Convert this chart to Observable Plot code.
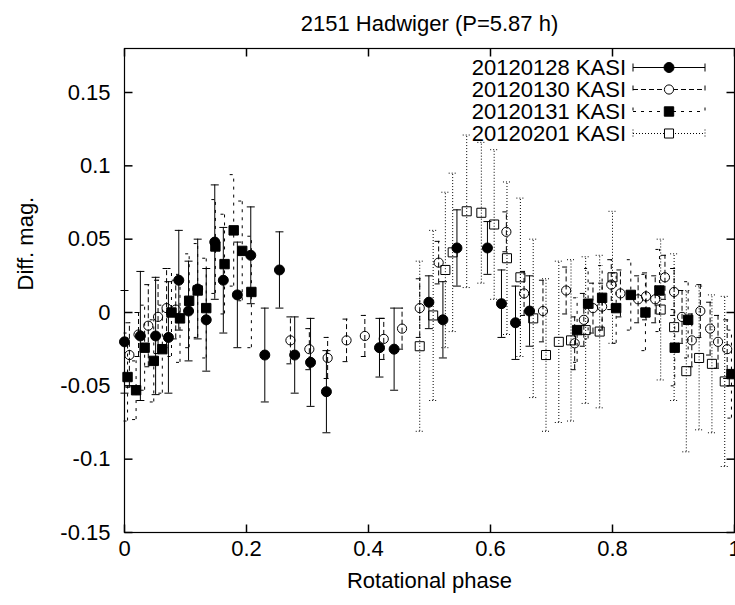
<!DOCTYPE html>
<html><head><meta charset="utf-8">
<script src="https://cdn.jsdelivr.net/npm/d3@7"></script>
<script src="https://cdn.jsdelivr.net/npm/@observablehq/plot@0.6"></script>
<style>body{margin:0;background:#fff} svg{display:block}</style>
</head><body><div id="chart"></div>
<script>
const title = "2151 Hadwiger (P=5.87 h)";
const xLabel = "Rotational phase";
const yLabel = "Diff. mag.";
const xTicks = [0, 0.2, 0.4, 0.6, 0.8, 1];
const xTickLabels = ["0", "0.2", "0.4", "0.6", "0.8", "1"];
const yTicks = [-0.15, -0.1, -0.05, 0, 0.05, 0.1, 0.15];
const yTickLabels = ["-0.15", "-0.1", "-0.05", "0", "0.05", "0.1", "0.15"];
const seriesNames = ["20120128 KASI", "20120130 KASI", "20120131 KASI", "20120201 KASI"];

// [phase, diff mag, error]
const s20120128 = [
  [0.000,-0.020,0.035],[0.026,-0.016,0.044],[0.051,-0.016,0.040],[0.072,-0.017,0.038],
  [0.089,0.022,0.034],[0.105,0.001,0.034],[0.120,0.016,0.034],[0.134,-0.005,0.035],
  [0.148,0.048,0.039],[0.162,0.022,0.036],[0.185,0.012,0.036],[0.207,0.039,0.033],
  [0.230,-0.029,0.032],[0.254,0.029,0.026],[0.279,-0.029,0.026],[0.305,-0.034,0.030],
  [0.331,-0.054,0.028],[0.418,-0.024,0.020],[0.442,-0.025,0.028],[0.499,0.007,0.018],
  [0.522,-0.005,0.026],[0.545,0.044,0.026],[0.595,0.044,0.018],[0.618,0.006,0.023],
  [0.641,-0.007,0.025],[0.664,0.001,0.024]
];
const s20120130 = [
  [0.008,-0.029,0.022],[0.023,-0.015,0.015],[0.039,-0.009,0.028],[0.055,-0.003,0.025],
  [0.069,0.003,0.027],[0.084,0.002,0.020],[0.272,-0.019,0.016],[0.303,-0.025,0.014],
  [0.333,-0.031,0.014],[0.364,-0.019,0.0145],[0.394,-0.016,0.014],[0.425,-0.018,0.014],
  [0.455,-0.011,0.014],[0.484,0.003,0.020],[0.515,0.034,0.0145],[0.626,0.055,0.0136],
  [0.655,0.013,0.015],[0.686,0.001,0.021],[0.724,0.015,0.016],[0.738,-0.021,0.018],
  [0.753,-0.005,0.018],[0.768,0.003,0.017],[0.783,0.004,0.016],[0.798,0.019,0.017],
  [0.813,0.013,0.016],[0.842,0.009,0.016],[0.855,0.011,0.016],[0.870,0.009,0.016],
  [0.886,0.024,0.015],[0.901,0.014,0.016],[0.914,-0.003,0.018],[0.930,-0.019,0.018],
  [0.944,0.001,0.018],[0.960,-0.011,0.018],[0.973,-0.020,0.018],[0.988,-0.025,0.020]
];
const s20120131 = [
  [0.005,-0.044,0.030],[0.019,-0.053,0.020],[0.033,-0.024,0.029],[0.048,-0.033,0.028],
  [0.062,-0.025,0.030],[0.077,0.000,0.030],[0.091,-0.004,0.030],[0.106,0.008,0.032],
  [0.120,0.015,0.032],[0.134,0.003,0.034],[0.149,0.045,0.032],[0.164,0.033,0.034],
  [0.179,0.056,0.038],[0.193,0.042,0.034],[0.208,0.014,0.038],[0.742,-0.012,0.022],
  [0.760,0.006,0.024],[0.783,0.010,0.022],[0.806,0.003,0.024],[0.830,0.012,0.024],
  [0.854,0.000,0.026],[0.877,0.015,0.028],[0.902,-0.024,0.026],[0.924,-0.005,0.026],
  [0.995,-0.042,0.030]
];
const s20120201 = [
  [0.484,-0.023,0.058],[0.506,-0.002,0.058],[0.526,0.029,0.053],[0.538,0.041,0.054],
  [0.561,0.069,0.052],[0.585,0.068,0.048],[0.606,0.060,0.051],[0.627,0.037,0.052],
  [0.649,0.024,0.054],[0.670,-0.004,0.054],[0.691,-0.029,0.052],[0.712,-0.020,0.055],
  [0.732,-0.019,0.055],[0.756,-0.012,0.050],[0.779,-0.013,0.052],[0.800,0.024,0.045],
  [0.879,0.002,0.048],[0.901,-0.010,0.050],[0.921,-0.040,0.055],[0.942,-0.031,0.049],
  [0.963,-0.035,0.047],[0.984,-0.047,0.058]
];

const seriesData = [s20120128, s20120130, s20120131, s20120201];
const seriesStyle = [
  {symbol: "circle", r: 5, fill: "black", dash: null},
  {symbol: "circle", r: 4.6, fill: "none", dash: "5,3"},
  {symbol: "square", r: 5.3, fill: "black", dash: "3,5"},
  {symbol: "square", r: 5.1, fill: "none", dash: "1,2"}
];

const capSym = {draw(c) { c.moveTo(-4, 0); c.lineTo(4, 0); }};
const tickUp = {draw(c) { c.moveTo(0, 0); c.lineTo(0, -8); }};
const tickDown = {draw(c) { c.moveTo(0, 0); c.lineTo(0, 8); }};
const tickRight = {draw(c) { c.moveTo(0, 0); c.lineTo(8, 0); }};
const tickLeft = {draw(c) { c.moveTo(0, 0); c.lineTo(-8, 0); }};

const FONT = "Liberation Sans, Arial, Helvetica, sans-serif";
const FS = 22;

const marks = [];
seriesData.forEach((data, i) => {
  const st = seriesStyle[i];
  const rows = data.map(([p, m, e]) => ({phase: p, mag: m, lo: m - e, hi: m + e}));
  marks.push(Plot.ruleX(rows, {x: "phase", y1: "lo", y2: "hi", stroke: "black", strokeWidth: 1, strokeDasharray: st.dash}));
  marks.push(Plot.dot(rows, {x: "phase", y: "lo", symbol: capSym, fill: "none", stroke: "black", strokeWidth: 1, strokeDasharray: st.dash}));
  marks.push(Plot.dot(rows, {x: "phase", y: "hi", symbol: capSym, fill: "none", stroke: "black", strokeWidth: 1, strokeDasharray: st.dash}));
  marks.push(Plot.dot(rows, {x: "phase", y: "mag", symbol: st.symbol, r: st.r, fill: st.fill, stroke: "black", strokeWidth: 1}));
});

marks.push(Plot.frame({stroke: "black", strokeWidth: 1.2}));
marks.push(Plot.dot(xTicks, {x: d => d, frameAnchor: "bottom", symbol: tickUp, stroke: "black", fill: "none"}));
marks.push(Plot.dot(xTicks, {x: d => d, frameAnchor: "top", symbol: tickDown, stroke: "black", fill: "none"}));
marks.push(Plot.dot(yTicks, {y: d => d, frameAnchor: "left", symbol: tickRight, stroke: "black", fill: "none"}));
marks.push(Plot.dot(yTicks, {y: d => d, frameAnchor: "right", symbol: tickLeft, stroke: "black", fill: "none"}));
marks.push(Plot.text(xTicks, {x: d => d, frameAnchor: "bottom", dy: 23, text: (d, i) => xTickLabels[i], fontSize: FS, fill: "black"}));
marks.push(Plot.text(yTicks, {y: d => d, frameAnchor: "left", dx: -14, textAnchor: "end", text: (d, i) => yTickLabels[i], fontSize: FS, fill: "black"}));
marks.push(Plot.text([xLabel], {frameAnchor: "bottom", dy: 55, text: d => d, fontSize: FS, fill: "black"}));
marks.push(Plot.text([yLabel], {frameAnchor: "left", dx: -99, rotate: -90, text: d => d, fontSize: FS, fill: "black"}));
marks.push(Plot.text([title], {frameAnchor: "top", dy: -33.5, text: d => d, fontSize: FS, fill: "black"}));

const plot = Plot.plot({
  width: 735,
  height: 605,
  marginLeft: 124,
  marginRight: 1,
  marginTop: 48,
  marginBottom: 73,
  x: {domain: [0, 1], axis: null},
  y: {domain: [-0.15, 0.18], axis: null},
  style: {background: "white", color: "black", fontFamily: FONT},
  marks
});

// legend
const svg = d3.select(plot);
const lg = svg.append("g").attr("font-family", FONT).attr("font-size", FS);
seriesNames.forEach((name, i) => {
  const st = seriesStyle[i];
  const y = 67.5 + 22 * i;
  lg.append("text").attr("x", 626).attr("y", y).attr("dy", "0.35em")
    .attr("text-anchor", "end").attr("fill", "black").text(name);
  const g = lg.append("g").attr("stroke", "black").attr("fill", "none");
  g.append("line").attr("x1", 633).attr("x2", 705).attr("y1", y).attr("y2", y).attr("stroke-dasharray", st.dash);
  g.append("line").attr("x1", 633).attr("x2", 633).attr("y1", y - 4).attr("y2", y + 4).attr("stroke-dasharray", st.dash);
  g.append("line").attr("x1", 705).attr("x2", 705).attr("y1", y - 4).attr("y2", y + 4).attr("stroke-dasharray", st.dash);
  const sym = st.symbol === "circle" ? d3.symbolCircle : d3.symbolSquare;
  g.append("path").attr("d", d3.symbol(sym, Math.PI * st.r * st.r)())
    .attr("transform", `translate(669,${y})`)
    .attr("fill", st.fill === "none" ? "white" : "black");
});

document.getElementById("chart").appendChild(plot);
</script>
</body></html>
